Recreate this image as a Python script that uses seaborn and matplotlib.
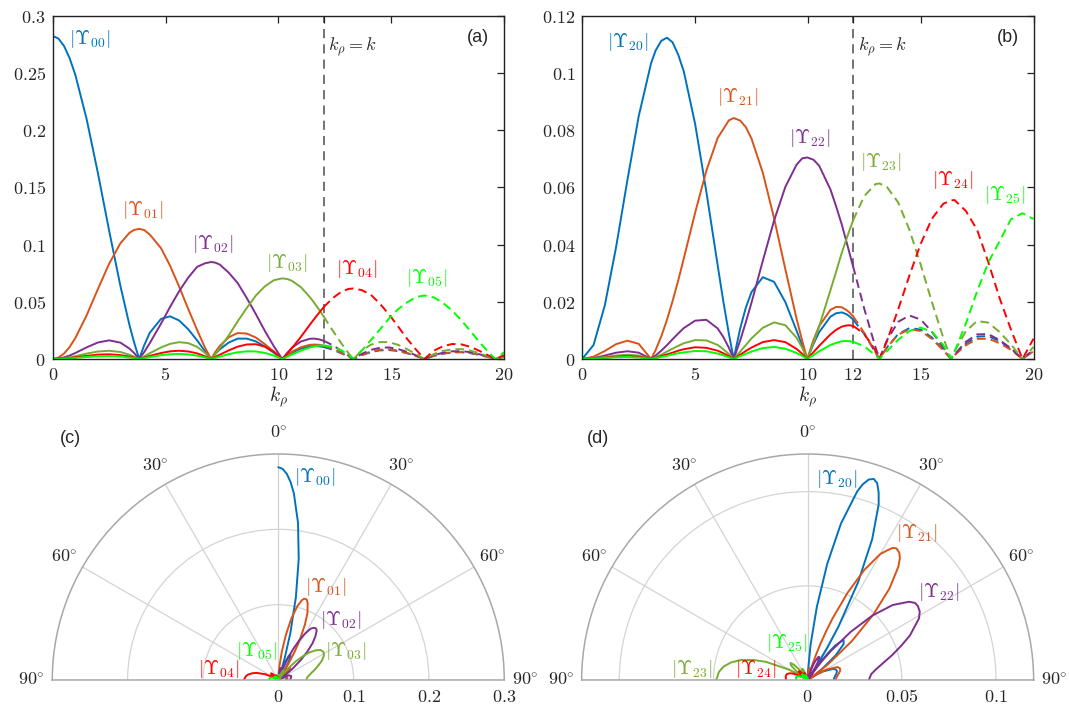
import matplotlib
matplotlib.use('Agg')
import matplotlib.pyplot as plt
import numpy as np
import seaborn as sns

# panel (a): k_rho samples and |Upsilon_0n|
kr_a = [0, 0.25, 0.5, 0.75, 1.0, 1.5, 2.0, 2.5, 3.0, 3.4, 3.6, 3.83, 4.05, 4.3, 4.8, 5.2, 5.6,
        6.0, 6.4, 6.75, 7.02, 7.2, 7.4, 7.8, 8.2, 8.6, 9.0, 9.4, 9.8, 10.17, 10.4, 10.6, 11.0,
        11.4, 11.6, 11.8, 11.9, 11.97, 12.0, 12.4, 12.8, 13.1, 13.32, 13.7, 14.1, 14.5, 14.9,
        15.3, 15.7, 16.1, 16.47, 16.9, 17.3, 17.7, 18.1, 18.5, 18.9, 19.3, 19.62, 20.0]
Y00 = [0.2825, 0.2803, 0.2738, 0.2631, 0.2487, 0.2101, 0.1629, 0.1123, 0.0639, 0.0298,
       0.0150, 0, 0.0118, 0.0229, 0.0351, 0.0373, 0.0337, 0.0261, 0.0163, 0.0067,
       0, 0.0043, 0.0083, 0.0144, 0.0178, 0.0178, 0.0154, 0.0109, 0.0054, 0,
       0.0030, 0.0055, 0.0091, 0.0110, 0.0113, 0.0111, 0.0108, 0.0106, 0.0105, 0.0082,
       0.0049, 0.0021, 0, 0.0033, 0.0060, 0.0075, 0.0078, 0.0069, 0.0050, 0.0026,
       0, 0.0028, 0.0046, 0.0057, 0.0059, 0.0051, 0.0036, 0.0017, 0, 0.0019]
Y01 = [0, 0.0012, 0.0047, 0.0105, 0.0182, 0.0380, 0.0610, 0.0833, 0.1012, 0.1103,
       0.1128, 0.1138, 0.1128, 0.1089, 0.0969, 0.0816, 0.0634, 0.0440, 0.0253, 0.0099,
       0, 0.0059, 0.0114, 0.0190, 0.0227, 0.0222, 0.0188, 0.0130, 0.0064, 0,
       0.0035, 0.0063, 0.0103, 0.0124, 0.0126, 0.0124, 0.0121, 0.0118, 0.0117, 0.0091,
       0.0054, 0.0023, 0, 0.0036, 0.0065, 0.0081, 0.0084, 0.0074, 0.0053, 0.0027,
       0, 0.0029, 0.0048, 0.0060, 0.0061, 0.0054, 0.0038, 0.0017, 0, 0.0020]
Y02 = [0, 0.0004, 0.0014, 0.0030, 0.0052, 0.0101, 0.0144, 0.0163, 0.0143, 0.0091,
       0.0054, 0, 0.0059, 0.0138, 0.0309, 0.0455, 0.0592, 0.0710, 0.0806, 0.0837,
       0.0848, 0.0843, 0.0826, 0.0755, 0.0663, 0.0533, 0.0393, 0.0246, 0.0111, 0,
       0.0055, 0.0098, 0.0153, 0.0177, 0.0178, 0.0172, 0.0166, 0.0161, 0.0160, 0.0121,
       0.0071, 0.0030, 0, 0.0045, 0.0080, 0.0098, 0.0101, 0.0087, 0.0062, 0.0032,
       0, 0.0034, 0.0055, 0.0067, 0.0069, 0.0060, 0.0042, 0.0019, 0, 0.0022]
Y03 = [0, 0.0002, 0.0007, 0.0014, 0.0024, 0.0047, 0.0065, 0.0072, 0.0061, 0.0037,
       0.0021, 0, 0.0022, 0.0050, 0.0101, 0.0132, 0.0147, 0.0139, 0.0106, 0.0053,
       0, 0.0043, 0.0094, 0.0206, 0.0330, 0.0446, 0.0554, 0.0635, 0.0689, 0.0705,
       0.0699, 0.0684, 0.0628, 0.0540, 0.0488, 0.0432, 0.0403, 0.0381, 0.0374, 0.0251,
       0.0134, 0.0053, 0, 0.0074, 0.0125, 0.0148, 0.0147, 0.0124, 0.0086, 0.0043,
       0, 0.0044, 0.0070, 0.0085, 0.0086, 0.0074, 0.0051, 0.0023, 0, 0.0025]
Y04 = [0, 0.0001, 0.0004, 0.0008, 0.0014, 0.0027, 0.0038, 0.0041, 0.0034, 0.0021,
       0.0012, 0, 0.0012, 0.0027, 0.0052, 0.0067, 0.0072, 0.0066, 0.0049, 0.0023,
       0, 0.0018, 0.0037, 0.0075, 0.0108, 0.0127, 0.0129, 0.0108, 0.0064, 0,
       0.0047, 0.0095, 0.0194, 0.0301, 0.0353, 0.0403, 0.0428, 0.0443, 0.0452, 0.0531,
       0.0589, 0.0612, 0.0617, 0.0602, 0.0561, 0.0483, 0.0391, 0.0286, 0.0177, 0.0082,
       0, 0.0074, 0.0112, 0.0131, 0.0128, 0.0107, 0.0072, 0.0032, 0, 0.0034]
Y05 = [0, 0.0001, 0.0003, 0.0005, 0.0009, 0.0018, 0.0024, 0.0026, 0.0022, 0.0013,
       0.0008, 0, 0.0008, 0.0017, 0.0033, 0.0041, 0.0044, 0.0040, 0.0029, 0.0014,
       0, 0.0010, 0.0021, 0.0042, 0.0059, 0.0067, 0.0066, 0.0053, 0.0030, 0,
       0.0020, 0.0039, 0.0073, 0.0101, 0.0111, 0.0117, 0.0118, 0.0119, 0.0119, 0.0107,
       0.0075, 0.0036, 0, 0.0075, 0.0165, 0.0259, 0.0353, 0.0435, 0.0494, 0.0542,
       0.0555, 0.0538, 0.0489, 0.0424, 0.0340, 0.0247, 0.0150, 0.0062, 0, 0.0059]

# panel (b): k_rho samples and |Upsilon_2n|
kr_b = [0, 0.5, 1.0, 1.5, 2.0, 2.5, 3.05, 3.25, 3.5, 3.75, 4.0, 4.25, 4.5, 5.0, 5.5,
        6.0, 6.25, 6.5, 6.71, 7.0, 7.25, 7.5, 8.0, 8.5, 9.0, 9.5, 9.75, 9.97, 10.25, 10.5,
        11.0, 11.25, 11.5, 11.7, 11.85, 11.95, 12.0, 12.5, 13.0, 13.17, 13.5, 14.0, 14.5, 15.0,
        15.5, 16.0, 16.35, 16.5, 17.0, 17.5, 18.0, 18.5, 19.0, 19.51, 20.0]
Y20 = [0, 0.0049, 0.0188, 0.0392, 0.0626, 0.0849, 0.1035, 0.1079, 0.1113, 0.1124,
       0.1108, 0.1065, 0.1006, 0.0823, 0.0585, 0.0328, 0.0202, 0.0087, 0, 0.0107,
       0.0180, 0.0234, 0.0286, 0.0270, 0.0199, 0.0099, 0.0046, 0, 0.0053, 0.0094,
       0.0148, 0.0160, 0.0163, 0.0157, 0.0149, 0.0142, 0.0139, 0.0087, 0.0022, 0,
       0.0040, 0.0087, 0.0108, 0.0103, 0.0075, 0.0032, 0, 0.0014, 0.0053, 0.0078,
       0.0080, 0.0062, 0.0036, 0, 0.0032]
Y21 = [0, 0.0008, 0.0028, 0.0052, 0.0064, 0.0053, 0, 0.0031, 0.0079, 0.0136,
       0.0202, 0.0274, 0.0352, 0.0511, 0.0659, 0.0773, 0.0804, 0.0835, 0.0843, 0.0834,
       0.0811, 0.0771, 0.0652, 0.0493, 0.0314, 0.0140, 0.0063, 0, 0.0067, 0.0115,
       0.0172, 0.0182, 0.0181, 0.0172, 0.0162, 0.0154, 0.0150, 0.0091, 0.0023, 0,
       0.0040, 0.0085, 0.0104, 0.0098, 0.0070, 0.0030, 0, 0.0013, 0.0048, 0.0070,
       0.0071, 0.0055, 0.0032, 0, 0.0027]
Y22 = [0, 0.0003, 0.0012, 0.0022, 0.0027, 0.0022, 0, 0.0012, 0.0029, 0.0048,
       0.0069, 0.0089, 0.0108, 0.0134, 0.0137, 0.0107, 0.0077, 0.0039, 0, 0.0065,
       0.0129, 0.0197, 0.0343, 0.0484, 0.0602, 0.0680, 0.0702, 0.0705, 0.0697, 0.0676,
       0.0593, 0.0534, 0.0471, 0.0413, 0.0369, 0.0339, 0.0325, 0.0175, 0.0040, 0,
       0.0065, 0.0130, 0.0152, 0.0138, 0.0095, 0.0040, 0, 0.0016, 0.0060, 0.0086,
       0.0087, 0.0066, 0.0037, 0, 0.0032]
Y23 = [0, 0.0002, 0.0007, 0.0012, 0.0015, 0.0012, 0, 0.0006, 0.0015, 0.0026,
       0.0036, 0.0046, 0.0055, 0.0066, 0.0065, 0.0049, 0.0034, 0.0017, 0, 0.0026,
       0.0049, 0.0072, 0.0109, 0.0128, 0.0118, 0.0074, 0.0039, 0, 0.0057, 0.0114,
       0.0241, 0.0305, 0.0371, 0.0418, 0.0452, 0.0473, 0.0485, 0.0570, 0.0612, 0.0614,
       0.0602, 0.0548, 0.0452, 0.0330, 0.0198, 0.0074, 0, 0.0028, 0.0097, 0.0133,
       0.0127, 0.0094, 0.0051, 0, 0.0042]
Y24 = [0, 0.0001, 0.0004, 0.0008, 0.0010, 0.0008, 0, 0.0004, 0.0010, 0.0016,
       0.0022, 0.0029, 0.0034, 0.0041, 0.0039, 0.0029, 0.0020, 0.0010, 0, 0.0015,
       0.0028, 0.0040, 0.0059, 0.0066, 0.0059, 0.0035, 0.0018, 0, 0.0024, 0.0046,
       0.0086, 0.0102, 0.0113, 0.0117, 0.0118, 0.0116, 0.0116, 0.0088, 0.0028, 0,
       0.0062, 0.0173, 0.0292, 0.0403, 0.0491, 0.0543, 0.0555, 0.0556, 0.0518, 0.0452,
       0.0338, 0.0212, 0.0103, 0, 0.0071]
Y25 = [0, 0.0001, 0.0003, 0.0006, 0.0007, 0.0005, 0, 0.0003, 0.0007, 0.0011,
       0.0016, 0.0020, 0.0023, 0.0028, 0.0027, 0.0019, 0.0013, 0.0006, 0, 0.0010,
       0.0018, 0.0026, 0.0038, 0.0042, 0.0036, 0.0021, 0.0011, 0, 0.0014, 0.0027,
       0.0049, 0.0056, 0.0062, 0.0063, 0.0062, 0.0061, 0.0060, 0.0044, 0.0013, 0,
       0.0027, 0.0067, 0.0098, 0.0110, 0.0095, 0.0049, 0, 0.0026, 0.0123, 0.0237,
       0.0338, 0.0413, 0.0489, 0.0510, 0.0490]

k0 = 12  # k_rho = k, edge of the propagating range

colors = ['#0072BD', '#D95319', '#7E2F8E', '#77AC30', '#FF0000', '#00FF00']
names_a = ['00', '01', '02', '03', '04', '05']
names_b = ['20', '21', '22', '23', '24', '25']

sns.set_theme(style='white')
plt.rcParams['mathtext.fontset'] = 'cm'
plt.rcParams['font.family'] = ['DejaVu Sans']

fig = plt.figure(figsize=(10.69, 7.10), dpi=100)
ax_a = fig.add_axes([0.0493, 0.4944, 0.4222, 0.4831])
ax_b = fig.add_axes([0.5447, 0.4944, 0.4221, 0.4831])
# square boxes: the half disc fills the width and sits in the middle
ax_c = fig.add_axes([0.0489, -0.1169, 0.4228, 0.6366], projection='polar')
ax_d = fig.add_axes([0.5441, -0.1169, 0.4228, 0.6366], projection='polar')

LW = 1.4
DASH = (0, (4.5, 2.6))


def ups(n):
    return r'$|\Upsilon_{%s}|$' % n


def top_panel(ax, kr, curves, names, ymax, yticks, ytlabels, lab_pos, klab_y, tag):
    kr = np.asarray(kr)
    near = kr <= k0
    far = kr >= k0
    for vals, c in zip(curves, colors):
        vals = np.asarray(vals)
        sns.lineplot(x=kr[near], y=vals[near], ax=ax, color=c, lw=LW, sort=False, estimator=None)
        sns.lineplot(x=kr[far], y=vals[far], ax=ax, color=c, lw=LW, sort=False, estimator=None,
                     linestyle=DASH)
    ax.axvline(k0, color='#4d4d4d', lw=1.1, linestyle=(0, (6, 4)), zorder=0)
    ax.set_xlim(0, 20)
    ax.set_ylim(0, ymax)
    ax.set_xticks([0, 5, 10, 12, 15, 20])
    ax.set_xticklabels(['$%d$' % t for t in [0, 5, 10, 12, 15, 20]])
    ax.set_yticks(yticks)
    ax.set_yticklabels(ytlabels)
    ax.tick_params(direction='in', top=True, right=True, length=5, width=0.9,
                   labelsize=13, color='#222222', pad=5)
    for sp in ax.spines.values():
        sp.set_color('#222222')
        sp.set_linewidth(1.0)
    ax.set_xlabel(r'$k_\rho$', fontsize=14, labelpad=0.5)
    ax.set_ylabel('')
    for n, (x, y), c in zip(names, lab_pos, colors):
        ax.text(x, y, ups(n), color=c, fontsize=14, ha='center', va='center')
    ax.text(12.2, klab_y, r'$k_\rho = k$', fontsize=13, ha='left', va='center')
    ax.text(0.943, 0.938, tag, transform=ax.transAxes, fontsize=13, ha='center', va='center',
            family='Liberation Sans')


top_panel(ax_a, kr_a, [Y00, Y01, Y02, Y03, Y04, Y05], names_a, 0.3,
          [0, 0.05, 0.1, 0.15, 0.2, 0.25, 0.3],
          ['$0$', '$0.05$', '$0.1$', '$0.15$', '$0.2$', '$0.25$', '$0.3$'],
          [(1.65, 0.2796), (4.0, 0.130), (7.11, 0.1004), (10.35, 0.0838), (13.45, 0.0786),
           (16.55, 0.0707)], 0.273, '(a)')
top_panel(ax_b, kr_b, [Y20, Y21, Y22, Y23, Y24, Y25], names_b, 0.12,
          [0, 0.02, 0.04, 0.06, 0.08, 0.1, 0.12],
          ['$0$', '$0.02$', '$0.04$', '$0.06$', '$0.08$', '$0.1$', '$0.12$'],
          [(2.01, 0.111), (6.87, 0.0916), (10.1, 0.0772), (13.22, 0.0688), (16.41, 0.0626),
           (18.72, 0.0573)], 0.1092, '(b)')


def polar_panel(ax, kr, curves, names, left, rmax, rgrid, rlabels, lab_pos):
    ax.set_theta_zero_location('N')
    ax.set_theta_direction(-1)
    ax.set_thetamin(-90)
    ax.set_thetamax(90)
    kr = np.asarray(kr)
    near = kr <= k0
    theta = np.arcsin(kr[near] / k0)
    for vals, n, c in zip(curves, names, colors):
        sgn = -1 if n in left else 1
        sns.lineplot(x=sgn * theta, y=np.asarray(vals)[near], ax=ax, color=c, lw=LW,
                     sort=False, estimator=None)
    ax.set_xlabel('')
    ax.set_ylabel('')
    ax.set_rlim(0, rmax)
    ax.set_yticks(rgrid)
    ax.set_yticklabels([])
    ax.tick_params(axis='y', length=0)
    ax.set_xticks(np.deg2rad([-90, -60, -30, 0, 30, 60, 90]))
    ax.set_xticklabels([r'$%d^{\circ}$' % a for a in [90, 60, 30, 0, 30, 60, 90]])
    ax.tick_params(axis='x', labelsize=13, length=0, pad=8)
    ax.grid(True, color='#d4d4d4', lw=0.9)
    for sp in ax.spines.values():
        sp.set_color('#a8a8a8')
        sp.set_linewidth(1.1)
    for v, s in rlabels:
        ax.annotate(s, xy=(np.pi / 2, v), xytext=(0, -6), textcoords='offset points',
                    ha='center', va='top', fontsize=13)
    for n, (t, r), c in zip(names, lab_pos, colors):
        ax.text(np.deg2rad(t), r, ups(n), color=c, fontsize=14, ha='center', va='center')


polar_panel(ax_c, kr_a, [Y00, Y01, Y02, Y03, Y04, Y05], names_a, ['04', '05'], 0.3,
            [0.1, 0.2], [(0, '$0$'), (0.1, '$0.1$'), (0.2, '$0.2$'), (0.3, '$0.3$')],
            [(10.3, 0.2733), (26.8, 0.139), (46.0, 0.1148), (66.5, 0.0971), (-79.7, 0.0803),
             (-35.9, 0.0478)])
polar_panel(ax_d, kr_b, [Y20, Y21, Y22, Y23, Y24, Y25], names_b, ['23', '24', '25'], 0.12,
            [0.05, 0.1], [(0, '$0$'), (0.05, '$0.05$'), (0.1, '$0.1$')],
            [(8.2, 0.1079), (36.6, 0.0972), (56.2, 0.0836), (-84.7, 0.062), (-78.2, 0.0282),
             (-29.8, 0.0225)])

fig.text(0.0655, 0.3827, '(c)', fontsize=13, ha='center', va='center', family='Liberation Sans')
fig.text(0.5597, 0.3827, '(d)', fontsize=13, ha='center', va='center', family='Liberation Sans')

fig.savefig('out.png', dpi=100)
